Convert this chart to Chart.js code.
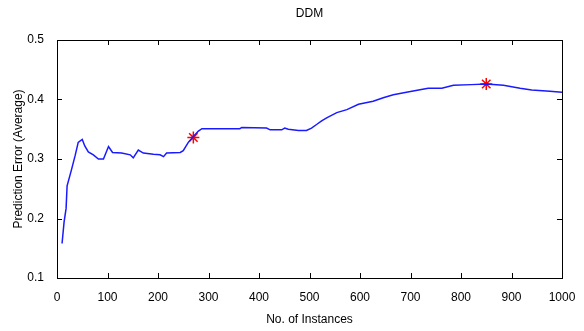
<!DOCTYPE html>
<html>
<head>
<meta charset="utf-8">
<script src="https://cdn.jsdelivr.net/npm/chart.js@4"></script>
<style>
  html, body { margin: 0; padding: 0; background: #fff; }
  #wrap { width: 584px; height: 331px; }
</style>
</head>
<body>
<div id="wrap"><canvas id="myLine" width="584" height="331"></canvas></div>
<script>
// values
const instances = [10, 14, 18, 20, 29, 36, 42, 50, 55, 62, 72, 82, 92, 102, 110, 128, 145, 151, 161, 171,
  191, 204, 211, 217, 244, 250, 260, 270, 280, 287, 362, 366, 415, 422, 445, 451, 458, 478, 494, 504,
  514, 524, 534, 554, 574, 597, 626, 646, 666, 692, 716, 735, 762, 785, 821, 850, 884, 917, 940, 976, 1000];
const errors = [0.158, 0.194, 0.217, 0.255, 0.283, 0.306, 0.328, 0.333, 0.322, 0.312, 0.307, 0.300, 0.300, 0.321, 0.311, 0.310, 0.307, 0.302, 0.315, 0.310,
  0.308, 0.307, 0.304, 0.310, 0.311, 0.314, 0.328, 0.338, 0.347, 0.351, 0.351, 0.353, 0.352, 0.349, 0.349, 0.352, 0.350, 0.348, 0.348, 0.352,
  0.358, 0.364, 0.369, 0.378, 0.383, 0.392, 0.397, 0.403, 0.408, 0.412, 0.416, 0.419, 0.419, 0.424, 0.425, 0.426, 0.424, 0.419, 0.416, 0.414, 0.412];
const driftX = [270, 850];
const driftY = [0.336, 0.426];
const xTicks = [0, 100, 200, 300, 400, 500, 600, 700, 800, 900, 1000];
const yTicks = [0.1, 0.2, 0.3, 0.4, 0.5];
const chartTitle = "DDM";

const font = { family: "'Liberation Sans', Arial, sans-serif", size: 12, weight: "normal" };

// box around the plot, ticks pointing inwards on all four sides, title centred over the plot
const boxTicks = {
  id: "boxTicks",
  afterDatasetsDraw(chart) {
    const { ctx, chartArea: a, scales } = chart;
    ctx.save();
    ctx.strokeStyle = "#000";
    ctx.lineWidth = 1;
    ctx.strokeRect(a.left + 0.5, a.top + 0.5, a.right - a.left, a.bottom - a.top);
    const len = 5;
    ctx.beginPath();
    xTicks.forEach((v) => {
      const px = Math.round(scales.x.getPixelForValue(v)) + 0.5;
      ctx.moveTo(px, a.bottom); ctx.lineTo(px, a.bottom - len);
      ctx.moveTo(px, a.top); ctx.lineTo(px, a.top + len);
    });
    yTicks.forEach((v) => {
      const py = Math.round(scales.y.getPixelForValue(v)) + 0.5;
      ctx.moveTo(a.left, py); ctx.lineTo(a.left + len, py);
      ctx.moveTo(a.right, py); ctx.lineTo(a.right - len, py);
    });
    ctx.stroke();

    ctx.fillStyle = "#000";
    ctx.font = "12px " + font.family;
    ctx.textAlign = "center";
    ctx.textBaseline = "middle";
    ctx.fillText(chartTitle, (a.left + a.right) / 2, 14);
    ctx.restore();
  },
};

new Chart(document.getElementById("myLine"), {
  type: "line",
  data: {
    datasets: [
      {
        label: "DDM",
        data: instances.map((x, i) => ({ x: x, y: errors[i] })),
        borderColor: "#1a1aff",
        borderWidth: 1.5,
        pointRadius: 0,
        tension: 0,
      },
      {
        label: "drift",
        data: driftX.map((x, i) => ({ x: x, y: driftY[i] })),
        showLine: false,
        pointStyle: "star",
        pointRadius: 6,
        borderColor: "#ff0000",
        borderWidth: 1.5,
      },
    ],
  },
  plugins: [boxTicks],
  options: {
    responsive: false,
    animation: false,
    layout: { padding: { left: 0, right: 22, top: 40, bottom: 0 } },
    plugins: {
      legend: { display: false },
      tooltip: { enabled: false },
      title: { display: false },
    },
    scales: {
      x: {
        type: "linear",
        min: 0,
        max: 1000,
        afterBuildTicks: (s) => { s.ticks = xTicks.map((v) => ({ value: v })); },
        afterFit: (s) => { s.height = 53; },
        grid: { display: false },
        border: { display: false },
        ticks: { color: "#000", font: font, padding: 4, maxRotation: 0, callback: (v) => String(v) },
        title: { display: true, text: "No. of Instances", color: "#000", font: font, padding: { top: 6 } },
      },
      y: {
        min: 0.1,
        max: 0.5,
        afterBuildTicks: (s) => { s.ticks = yTicks.map((v) => ({ value: v })); },
        afterFit: (s) => { s.width = 57; },
        grid: { display: false },
        border: { display: false },
        ticks: { color: "#000", font: font, padding: 5, callback: (v) => v.toFixed(1) },
        title: { display: true, text: "Prediction Error (Average)", color: "#000", font: font, padding: { top: 11, bottom: 0 } },
      },
    },
  },
});
</script>
</body>
</html>
